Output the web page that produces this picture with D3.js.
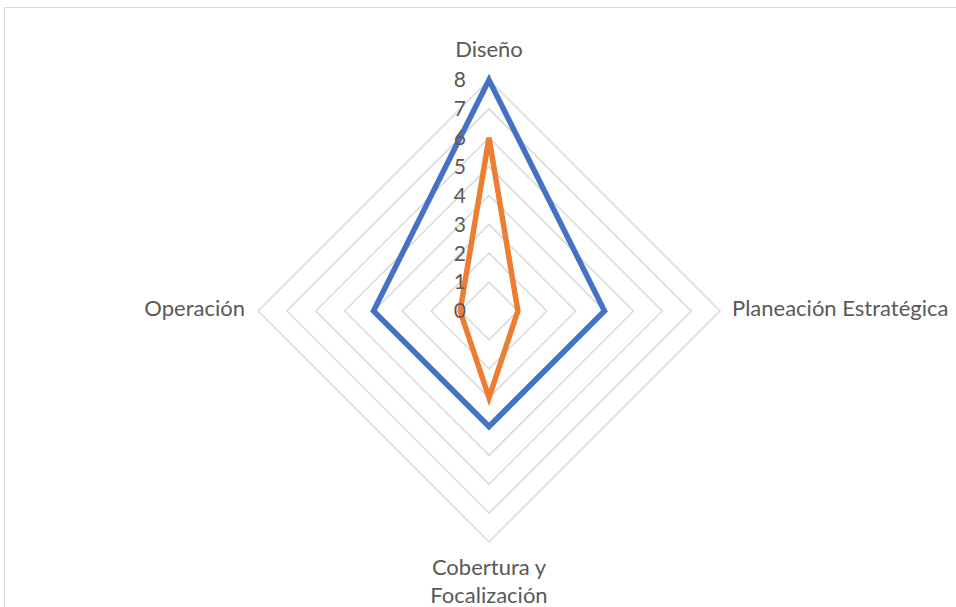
<!DOCTYPE html>
<html><head><meta charset="utf-8">
<script src="https://cdn.jsdelivr.net/npm/d3@7"></script>
<style>body{margin:0;background:#fff}svg{display:block;font-family:Lato,"Open Sans",sans-serif}</style>
</head><body>
<svg id="c" width="956" height="607"></svg>
<script>
const categories = ["Diseño","Planeación Estratégica","Cobertura y Focalización","Operación"];
const seriesBlue = [8,4,4,4];
const seriesOrange = [6,1,3,1];
const tickValues = [0,1,2,3,4,5,6,7,8];

const svg = d3.select("#c");
const cx = 489, cy = 311, R = 231;
const r = d3.scaleLinear().domain([0,8]).range([0,R]);
const ang = i => -Math.PI/2 + i*2*Math.PI/categories.length;
const pt = (v,i) => [cx + r(v)*Math.cos(ang(i)), cy + r(v)*Math.sin(ang(i))];

svg.append("rect").attr("x",4.5).attr("y",7.5).attr("width",980).attr("height",700)
  .attr("fill","none").attr("stroke","#d9d9d9").attr("stroke-width",1);

const line = d3.line().curve(d3.curveLinearClosed);
tickValues.filter(t=>t>0).forEach(t=>{
  svg.append("path").attr("d", line(categories.map((c,i)=>pt(t,i))))
    .attr("fill","none").attr("stroke","#d9d9d9").attr("stroke-width",1.5);
});

svg.append("path").attr("d", line(seriesBlue.map((v,i)=>pt(v,i))))
  .attr("fill","none").attr("stroke","#4472C4").attr("stroke-width",5.5).attr("stroke-linejoin","miter");
svg.append("path").attr("d", line(seriesOrange.map((v,i)=>pt(v,i))))
  .attr("fill","none").attr("stroke","#ED7D31").attr("stroke-width",5.5).attr("stroke-linejoin","miter");

svg.append("g").selectAll("text").data(tickValues).join("text")
  .attr("x", 466).attr("y", d=>cy - r(d)).attr("dy","0.35em")
  .attr("text-anchor","end").attr("fill","#595959").attr("font-size",21).text(d=>d);

const lab = svg.append("g").attr("fill","#595959").attr("font-size",22);
lab.append("text").attr("x",cx).attr("y",57).attr("text-anchor","middle").text(categories[0]);
lab.append("text").attr("x",732).attr("y",316).attr("text-anchor","start").text(categories[1]);
const cb = lab.append("text").attr("x",cx).attr("y",575).attr("text-anchor","middle");
cb.append("tspan").attr("x",cx).text("Cobertura y");
cb.append("tspan").attr("x",cx).attr("y",603).text("Focalización");
lab.append("text").attr("x",245).attr("y",316).attr("text-anchor","end").text(categories[3]);
</script>
</body></html>
